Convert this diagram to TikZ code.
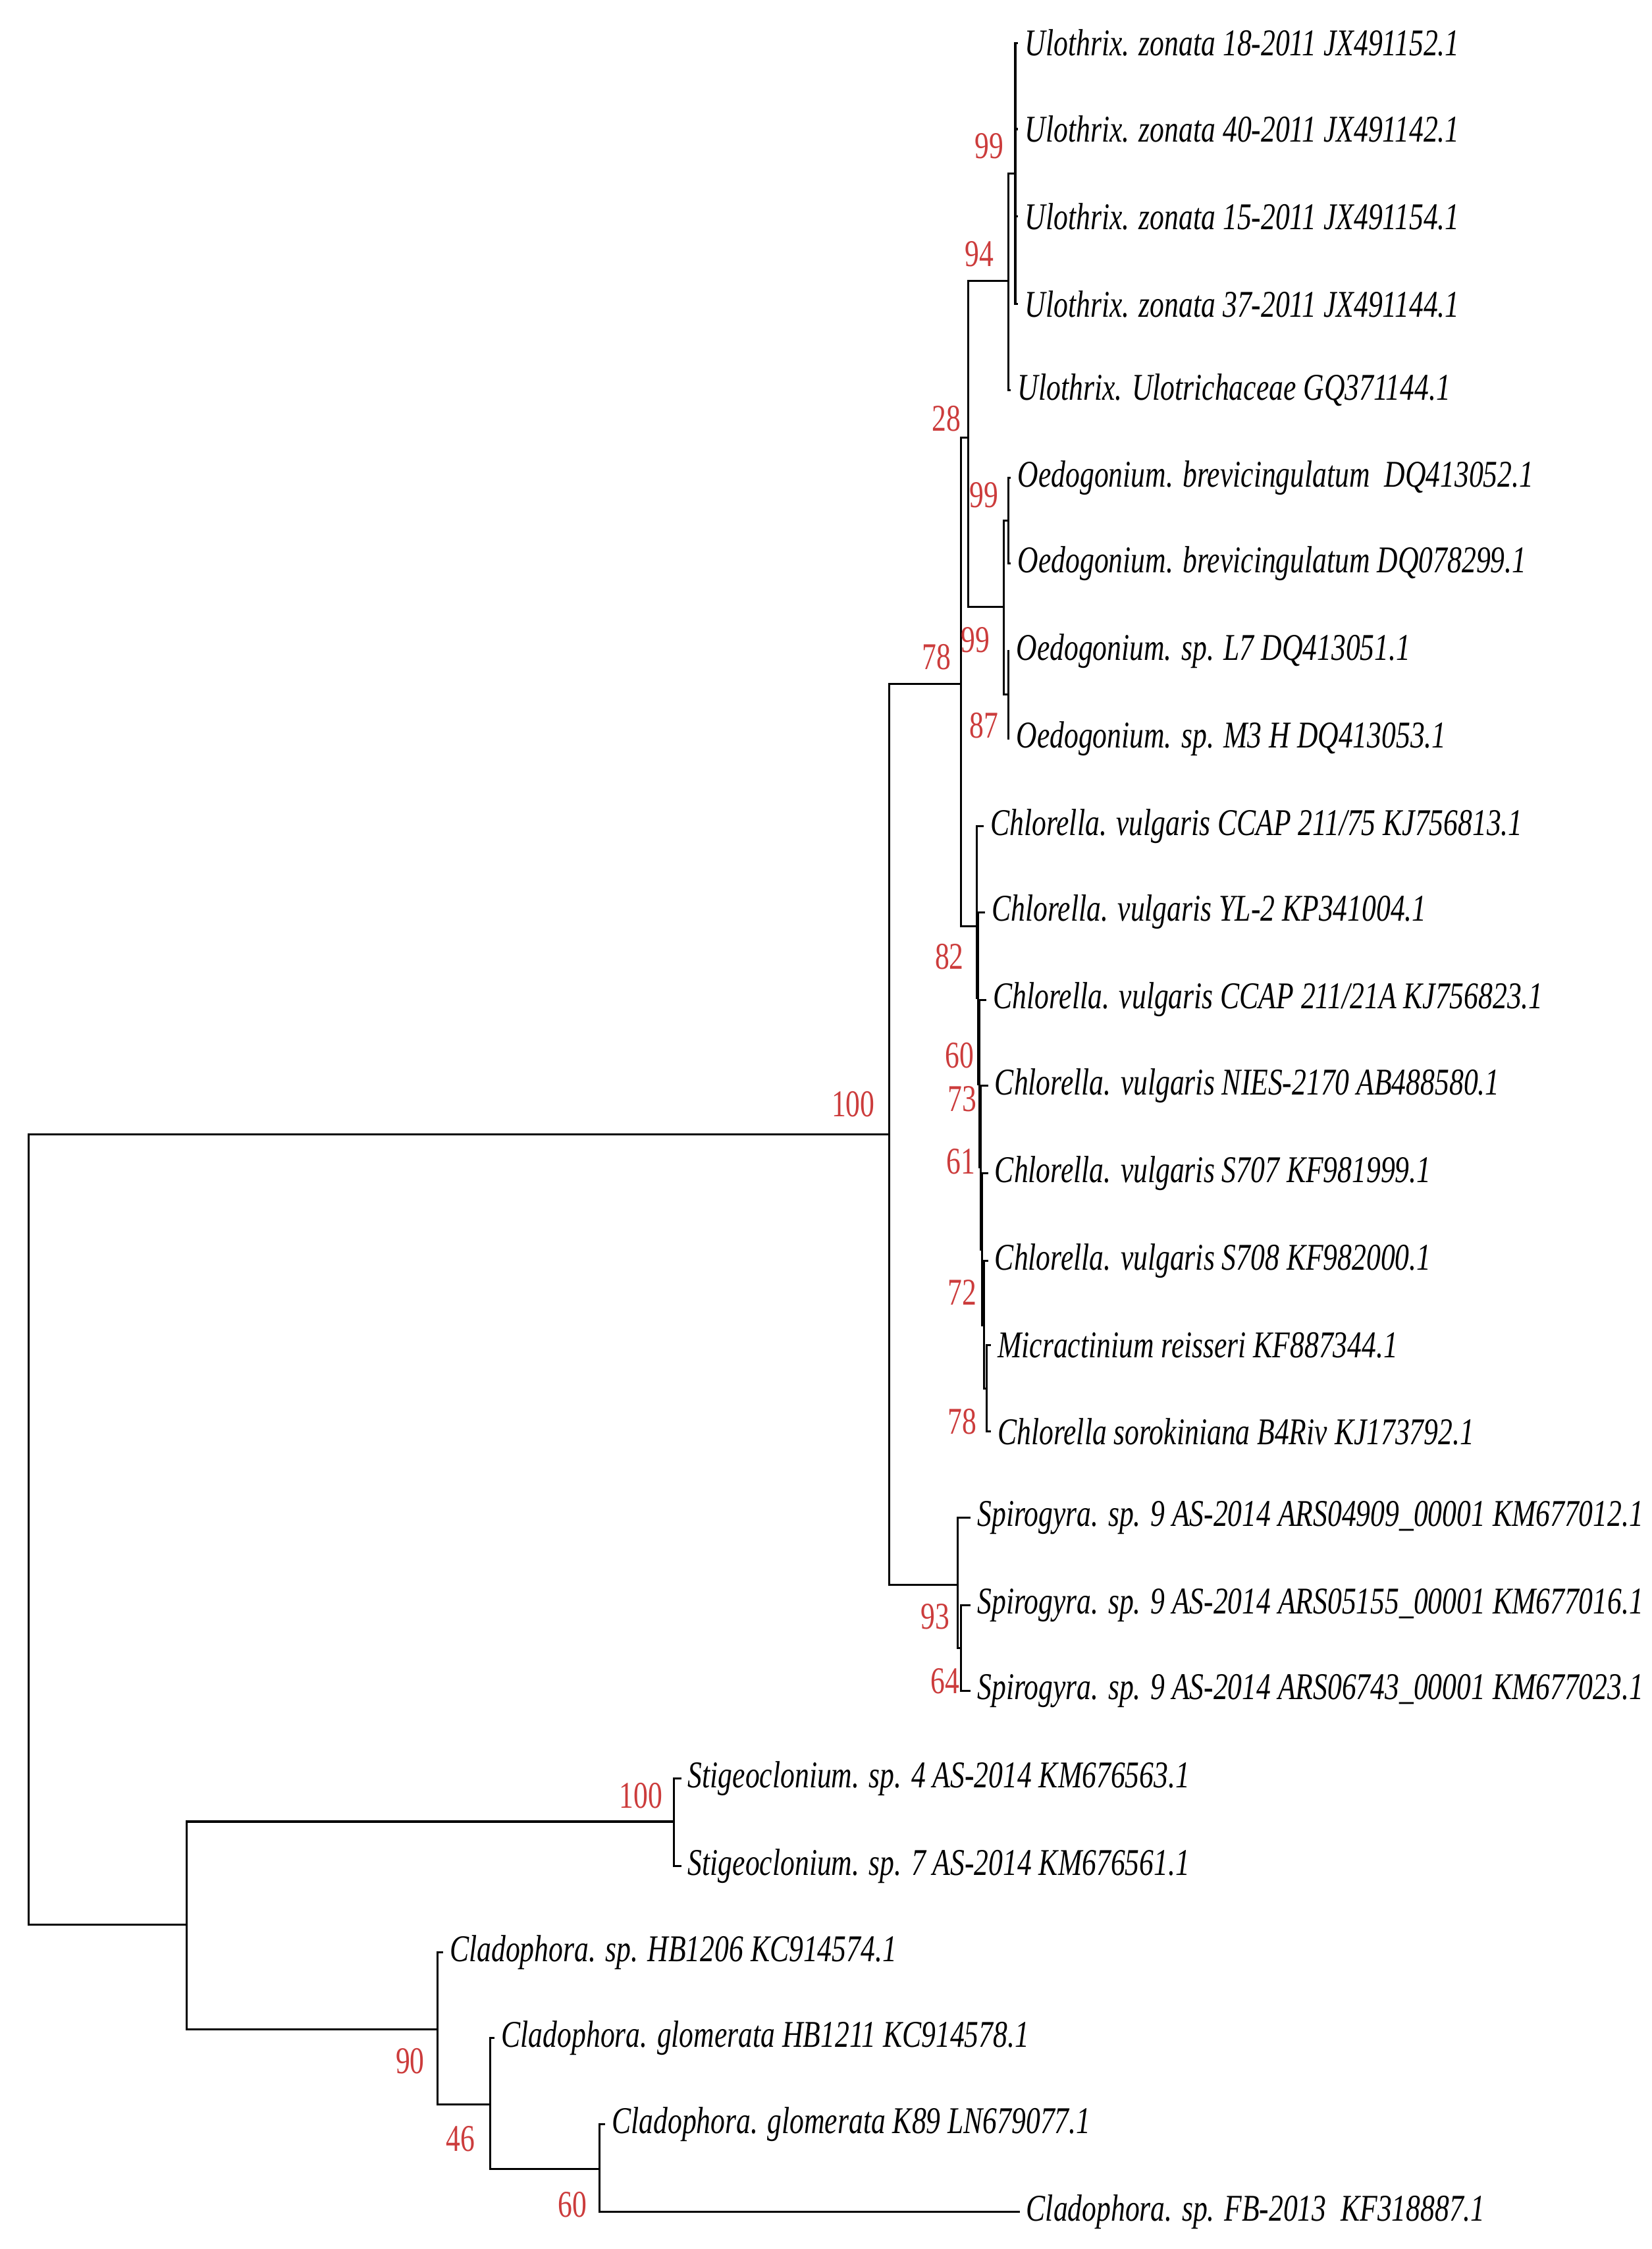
\documentclass[tikz,border=0pt]{standalone}
\usepackage{fontspec}
\setmainfont[FakeStretch=0.76]{Liberation Serif}
\definecolor{bsred}{RGB}{204,60,60}
\begin{document}
\begin{tikzpicture}[x=0.02cm,y=-0.02cm,
  branch/.style={line width=0.8pt,black},
  leaf/.style={anchor=west,inner xsep=2.5pt,inner ysep=0pt,font=\fontsize{15}{18}\selectfont\itshape},
  bs/.style={text=bsred,inner sep=0pt,font=\fontsize{15}{18}\selectfont}]
\fill[white] (0,0) rectangle (1152,1568);
\useasboundingbox (0,0) rectangle (1152,1568);
% internal nodes
\coordinate (R) at (20,1066);
\coordinate (A) at (620,791);
\coordinate (B) at (130,1342);
\coordinate (N78) at (670,477);
\coordinate (N93) at (668,1105);
\coordinate (N28) at (675,305);
\coordinate (N82) at (681,646);
\coordinate (N94) at (703,196);
\coordinate (NOed) at (700,423);
\coordinate (N99u) at (708,121);
\coordinate (N99c) at (703,363);
\coordinate (N87) at (703,484);
\coordinate (NX) at (682,696);
\coordinate (N60) at (683,756);
\coordinate (N73) at (684,814);
\coordinate (N61) at (685,871);
\coordinate (N72) at (686,924);
\coordinate (N78b) at (688,968);
\coordinate (N64) at (670,1149);
\coordinate (S100) at (470,1270);
\coordinate (N90) at (305,1415);
\coordinate (N46) at (342,1467);
\coordinate (N60c) at (418,1512);
% leaves
\node[leaf] (l1) at (710,30) {Ulothrix. zonata 18-2011 JX491152.1};
\node[leaf] (l2) at (710,90) {Ulothrix. zonata 40-2011 JX491142.1};
\node[leaf] (l3) at (710,151) {Ulothrix. zonata 15-2011 JX491154.1};
\node[leaf] (l4) at (710,212) {Ulothrix. zonata 37-2011 JX491144.1};
\node[leaf] (l5) at (705,272) {Ulothrix. Ulotrichaceae GQ371144.1};
\node[leaf] (l6) at (705,333) {Oedogonium. brevicingulatum \ DQ413052.1};
\node[leaf] (l7) at (705,393) {Oedogonium. brevicingulatum DQ078299.1};
\node[leaf] (l8) at (704,454) {Oedogonium. sp. L7 DQ413051.1};
\node[leaf] (l9) at (704,515) {Oedogonium. sp. M3 H DQ413053.1};
\node[leaf] (l10) at (686,576) {Chlorella. vulgaris CCAP 211/75 KJ756813.1};
\node[leaf] (l11) at (687,636) {Chlorella. vulgaris YL-2 KP341004.1};
\node[leaf] (l12) at (688,697) {Chlorella. vulgaris CCAP 211/21A KJ756823.1};
\node[leaf] (l13) at (689,757) {Chlorella. vulgaris NIES-2170 AB488580.1};
\node[leaf] (l14) at (689,818) {Chlorella. vulgaris S707 KF981999.1};
\node[leaf] (l15) at (689,879) {Chlorella. vulgaris S708 KF982000.1};
\node[leaf] (l16) at (691,938) {Micractinium reisseri KF887344.1};
\node[leaf] (l17) at (691,998) {Chlorella sorokiniana B4Riv KJ173792.1};
\node[leaf] (l18) at (677,1058) {Spirogyra. sp. 9 AS-2014 ARS04909\_00001 KM677012.1};
\node[leaf] (l19) at (677,1119) {Spirogyra. sp. 9 AS-2014 ARS05155\_00001 KM677016.1};
\node[leaf] (l20) at (677,1179) {Spirogyra. sp. 9 AS-2014 ARS06743\_00001 KM677023.1};
\node[leaf] (l21) at (475,1240) {Stigeoclonium. sp. 4 AS-2014 KM676563.1};
\node[leaf] (l22) at (475,1301) {Stigeoclonium. sp. 7 AS-2014 KM676561.1};
\node[leaf] (l23) at (309,1361) {Cladophora. sp. HB1206 KC914574.1};
\node[leaf] (l24) at (345,1421) {Cladophora. glomerata HB1211 KC914578.1};
\node[leaf] (l25) at (422,1481) {Cladophora. glomerata K89 LN679077.1};
\node[leaf] (l26) at (711,1542) {Cladophora. sp. FB-2013 \ KF318887.1};
% branches
\foreach \p/\c in {R/A,R/B,A/N78,A/N93,N78/N28,N78/N82,N28/N94,N28/NOed,
  N94/N99u,N94/l5.west,N99u/l1.west,N99u/l2.west,N99u/l3.west,N99u/l4.west,
  NOed/N99c,NOed/N87,N99c/l6.west,N99c/l7.west,N87/l8.west,N87/l9.west,
  N82/l10.west,N82/NX,NX/l11.west,NX/N60,N60/l12.west,N60/N73,N73/l13.west,N73/N61,
  N61/l14.west,N61/N72,N72/l15.west,N72/N78b,N78b/l16.west,N78b/l17.west,
  N93/l18.west,N93/N64,N64/l19.west,N64/l20.west,
  B/S100,B/N90,S100/l21.west,S100/l22.west,N90/l23.west,N90/N46,
  N46/l24.west,N46/N60c,N60c/l25.west,N60c/l26.west}
  \draw[branch] (\p) |- (\c);
% bootstrap values
\node[bs] (b1) at (690,102) {99};
\node[bs] (b2) at (683,177) {94};
\node[bs] (b3) at (660,292) {28};
\node[bs] (b4) at (686,345) {99};
\node[bs] (b5) at (680,446) {99};
\node[bs] (b6) at (653,458) {78};
\node[bs] (b7) at (686,506) {87};
\node[bs] (b8) at (662,667) {82};
\node[bs] (b9) at (669,736) {60};
\node[bs] (b10) at (671,766) {73};
\node[bs] (b11) at (670,810) {61};
\node[bs] (b12) at (595,770) {100};
\node[bs] (b13) at (671,901) {72};
\node[bs] (b14) at (671,991) {78};
\node[bs] (b15) at (652,1127) {93};
\node[bs] (b16) at (659,1172) {64};
\node[bs] (b17) at (447,1252) {100};
\node[bs] (b18) at (286,1437) {90};
\node[bs] (b19) at (321,1491) {46};
\node[bs] (b20) at (399,1537) {60};
\end{tikzpicture}
\end{document}
